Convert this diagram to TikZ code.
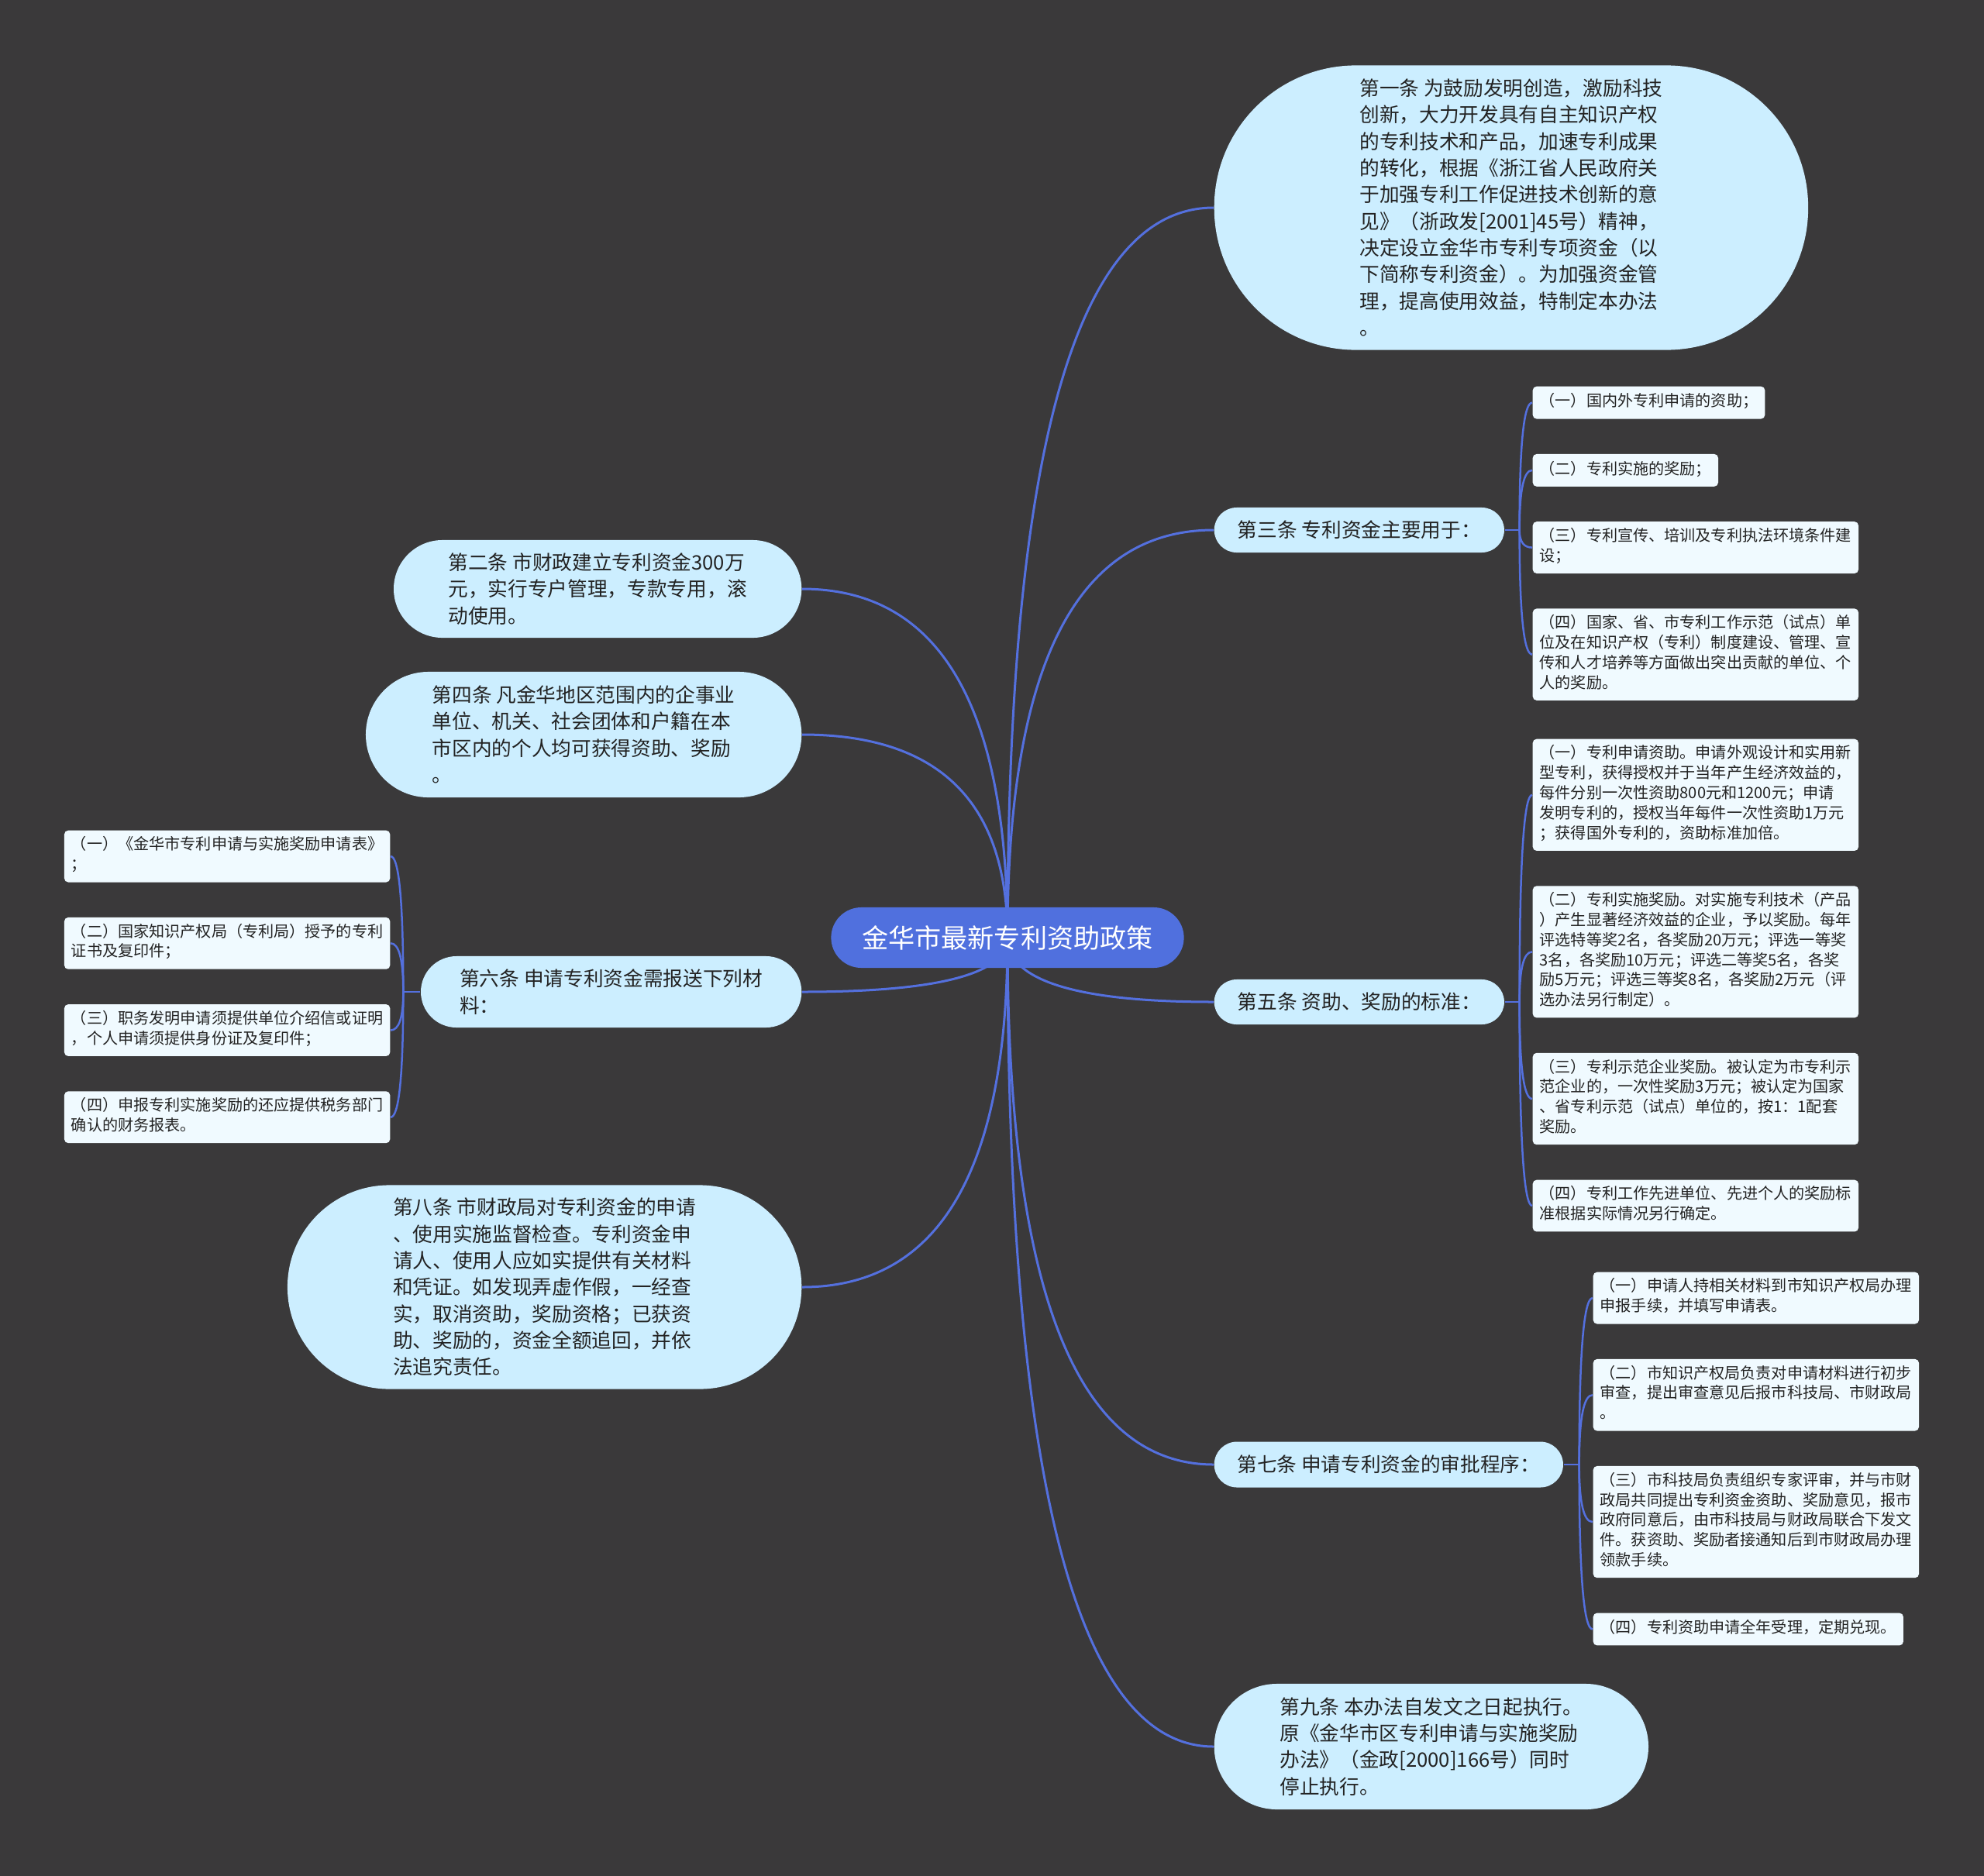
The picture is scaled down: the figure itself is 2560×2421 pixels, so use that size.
\documentclass[tikz,border=0pt]{standalone}
\usepackage{fontspec}
\setmainfont{Noto Sans CJK SC}
\usetikzlibrary{positioning, backgrounds, calc}
\definecolor{cBack}{RGB}{58, 57, 58}
\definecolor{cRoot}{RGB}{80, 112, 222}
\definecolor{cTopic}{RGB}{204, 238, 255}
\definecolor{cLeaf}{RGB}{240, 250, 255}
\definecolor{cLine}{RGB}{84, 112, 222}
\definecolor{cText}{RGB}{35, 35, 35}
\tikzset{
    % 中心主题
    rootNode/.style={
        fill=cRoot, text=white, inner sep=0pt,
        minimum width=4.55cm, minimum height=0.78cm, rounded corners=0.39cm,
        font=\fontsize{9.7pt}{12pt}\selectfont
    },
    % 分支主题
    topicNode/.style={
        fill=cTopic, text=cText, inner sep=0pt, align=left,
        font=\fontsize{7.3pt}{9.76pt}\selectfont
    },
    pill/.style n args={3}{
        minimum width=#1cm, minimum height=#2cm, rounded corners=#3cm
    },
    % 子主题
    leafNode/.style={
        fill=cLeaf, text=cText, rounded corners=0.05cm,
        inner xsep=0.09cm, inner ysep=0.08cm, align=left,
        font=\fontsize{5.72pt}{7.34pt}\selectfont,
        execute at begin node=\strut, execute at end node=\strut
    },
    % 连线
    conn/.style={draw=cLine, line width=0.03cm},
    leafConn/.style={draw=cLine, line width=0.025cm}
}

\begin{document}
\begin{tikzpicture}[x=0.01cm, y=-0.01cm, node distance=0.44cm and 0cm]

	% 1. 中心主题
	\node[rootNode] (root) at (1300,1210) {金华市最新专利资助政策};

	% 2. 右侧分支
	\node[topicNode, pill={7.66}{3.67}{1.83}, anchor=west] (n1) at (1566,268) {
		第一条 为鼓励发明创造，激励科技\\
		创新，大力开发具有自主知识产权\\
		的专利技术和产品，加速专利成果\\
		的转化，根据《浙江省人民政府关\\
		于加强专利工作促进技术创新的意\\
		见》（浙政发[2001]45号）精神，\\
		决定设立金华市专利专项资金（以\\
		下简称专利资金）。为加强资金管\\
		理，提高使用效益，特制定本办法\\
		。
	};
	\node[topicNode, pill={3.74}{0.58}{0.29}, anchor=west] (n3) at (1566,684) {第三条 专利资金主要用于：};
	\node[topicNode, pill={3.74}{0.58}{0.29}, anchor=west] (n5) at (1566,1293) {第五条 资助、奖励的标准：};
	\node[topicNode, pill={4.50}{0.59}{0.295}, anchor=west] (n7) at (1566,1890) {第七条 申请专利资金的审批程序：};
	\node[topicNode, pill={5.60}{1.62}{0.81}, anchor=west] (n9) at (1566,2254) {
		第九条 本办法自发文之日起执行。\\
		原《金华市区专利申请与实施奖励\\
		办法》（金政[2000]166号）同时\\
		停止执行。
	};

	% 3. 左侧分支
	\node[topicNode, pill={5.26}{1.26}{0.63}, anchor=east] (n2) at (1035,760) {
		第二条 市财政建立专利资金300万\\
		元，实行专户管理，专款专用，滚\\
		动使用。
	};
	\node[topicNode, pill={5.62}{1.62}{0.81}, anchor=east] (n4) at (1035,948) {
		第四条 凡金华地区范围内的企事业\\
		单位、机关、社会团体和户籍在本\\
		市区内的个人均可获得资助、奖励\\
		。
	};
	\node[topicNode, pill={4.91}{0.92}{0.46}, anchor=east] (n6) at (1035,1280) {
		第六条 申请专利资金需报送下列材\\
		料：
	};
	\node[topicNode, pill={6.63}{2.63}{1.315}, anchor=east] (n8) at (1035,1661) {
		第八条 市财政局对专利资金的申请\\
		、使用实施监督检查。专利资金申\\
		请人、使用人应如实提供有关材料\\
		和凭证。如发现弄虚作假，一经查\\
		实，取消资助，奖励资格；已获资\\
		助、奖励的，资金全额追回，并依\\
		法追究责任。
	};

	% 4. 第三条子主题
	\node[leafNode, anchor=north west] (c31) at (1977,498) {（一）国内外专利申请的资助；};
	\node[leafNode, below right=of c31.south west] (c32) {（二）专利实施的奖励；};
	\node[leafNode, below right=of c32.south west] (c33) {
		（三）专利宣传、培训及专利执法环境条件建\\
		设；
	};
	\node[leafNode, below right=of c33.south west] (c34) {
		（四）国家、省、市专利工作示范（试点）单\\
		位及在知识产权（专利）制度建设、管理、宣\\
		传和人才培养等方面做出突出贡献的单位、个\\
		人的奖励。
	};

	% 5. 第五条子主题
	\node[leafNode, anchor=north west] (c51) at (1977,953) {
		（一）专利申请资助。申请外观设计和实用新\\
		型专利，获得授权并于当年产生经济效益的，\\
		每件分别一次性资助800元和1200元；申请\\
		发明专利的，授权当年每件一次性资助1万元\\
		；获得国外专利的，资助标准加倍。
	};
	\node[leafNode, below right=of c51.south west] (c52) {
		（二）专利实施奖励。对实施专利技术（产品\\
		）产生显著经济效益的企业，予以奖励。每年\\
		评选特等奖2名，各奖励20万元；评选一等奖\\
		3名，各奖励10万元；评选二等奖5名，各奖\\
		励5万元；评选三等奖8名，各奖励2万元（评\\
		选办法另行制定）。
	};
	\node[leafNode, below right=of c52.south west] (c53) {
		（三）专利示范企业奖励。被认定为市专利示\\
		范企业的，一次性奖励3万元；被认定为国家\\
		、省专利示范（试点）单位的，按1：1配套\\
		奖励。
	};
	\node[leafNode, below right=of c53.south west] (c54) {
		（四）专利工作先进单位、先进个人的奖励标\\
		准根据实际情况另行确定。
	};

	% 6. 第六条子主题
	\node[leafNode, anchor=north east] (c61) at (504,1071) {
		（一）《金华市专利申请与实施奖励申请表》\\
		；
	};
	\node[leafNode, below left=of c61.south east] (c62) {
		（二）国家知识产权局（专利局）授予的专利\\
		证书及复印件；
	};
	\node[leafNode, below left=of c62.south east] (c63) {
		（三）职务发明申请须提供单位介绍信或证明\\
		，个人申请须提供身份证及复印件；
	};
	\node[leafNode, below left=of c63.south east] (c64) {
		（四）申报专利实施奖励的还应提供税务部门\\
		确认的财务报表。
	};

	% 7. 第七条子主题
	\node[leafNode, anchor=north west] (c71) at (2055,1641) {
		（一）申请人持相关材料到市知识产权局办理\\
		申报手续，并填写申请表。
	};
	\node[leafNode, below right=of c71.south west] (c72) {
		（二）市知识产权局负责对申请材料进行初步\\
		审查，提出审查意见后报市科技局、市财政局\\
		。
	};
	\node[leafNode, below right=of c72.south west] (c73) {
		（三）市科技局负责组织专家评审，并与市财\\
		政局共同提出专利资金资助、奖励意见，报市\\
		政府同意后，由市科技局与财政局联合下发文\\
		件。获资助、奖励者接通知后到市财政局办理\\
		领款手续。
	};
	\node[leafNode, below right=of c73.south west] (c74) {（四）专利资助申请全年受理，定期兑现。};

	% 8. 背景与连线
	\begin{scope}[on background layer]
		\fill[cBack] (0,0) rectangle (2560,2421);

		% 中心 -> 分支（二次曲线）
		\foreach \topic/\side in {n1/west,n3/west,n5/west,n7/west,n9/west,n2/east,n4/east,n6/east,n8/east} {
			\coordinate (k) at (root.center |- \topic.\side);
			\draw[conn] (root.center)
				.. controls ($(root.center)!0.667!(k)$) and ($(\topic.\side)!0.667!(k)$)
				.. (\topic.\side);
		}

		\path (n3.east) ++(19,0) coordinate (t3);
		\path (n5.east) ++(19,0) coordinate (t5);
		\path (n7.east) ++(20,0) coordinate (t7);
		\path (n6.west) ++(-22,0) coordinate (t6);

		% 分支 -> 子主题
		\foreach \trunk/\leaf/\side in {t3/c31/west,t3/c32/west,t3/c33/west,t3/c34/west,
				t5/c51/west,t5/c52/west,t5/c53/west,t5/c54/west,
				t7/c71/west,t7/c72/west,t7/c73/west,t7/c74/west,
				t6/c61/east,t6/c62/east,t6/c63/east,t6/c64/east} {
			\coordinate (k) at (\trunk |- \leaf.\side);
			\draw[leafConn] (\trunk)
				.. controls ($(\trunk)!0.667!(k)$) and ($(\leaf.\side)!0.667!(k)$)
				.. (\leaf.\side);
		}
		\draw[leafConn] (n3.east) -- (t3);
		\draw[leafConn] (n5.east) -- (t5);
		\draw[leafConn] (n7.east) -- (t7);
		\draw[leafConn] (n6.west) -- (t6);
	\end{scope}

\end{tikzpicture}
\end{document}
